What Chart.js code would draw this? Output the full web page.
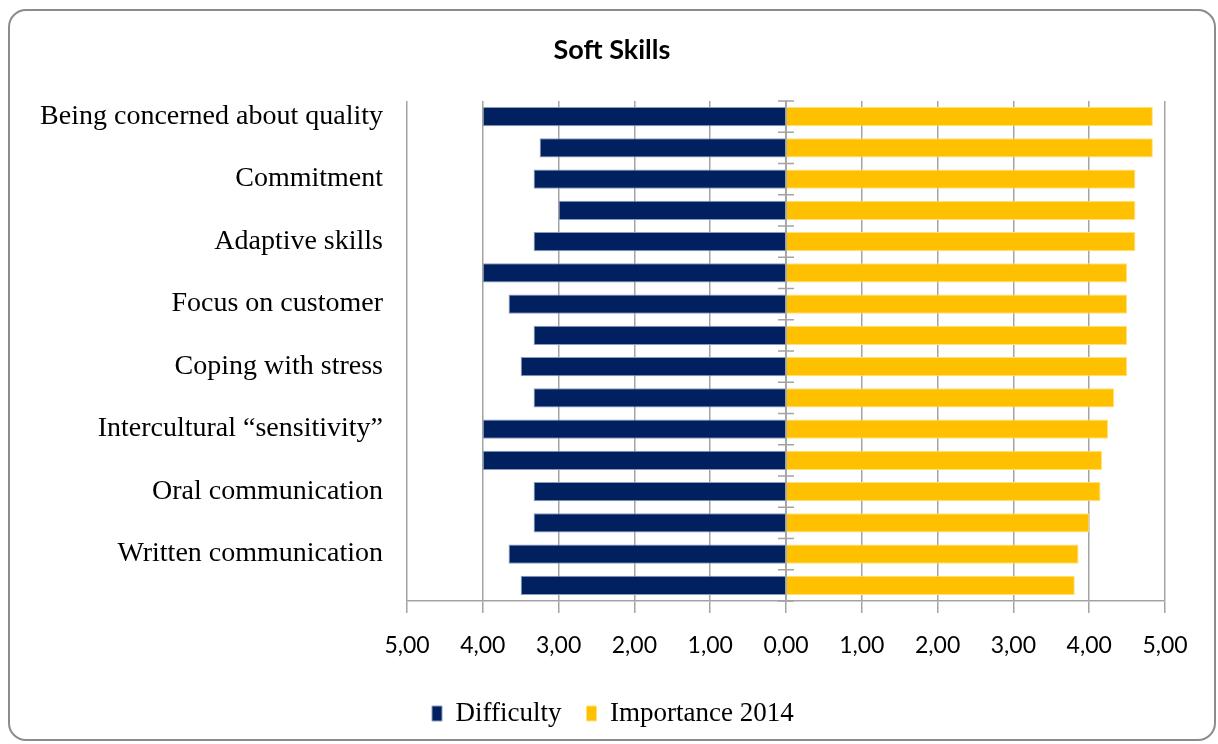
<!DOCTYPE html>
<html>
<head>
<meta charset="utf-8">
<script src="https://cdn.jsdelivr.net/npm/chart.js@4/dist/chart.umd.min.js"></script>
<style>
  html, body { margin: 0; padding: 0; background: #fff; }
  #frame {
    position: absolute; left: 8px; top: 9px; width: 1204px; height: 728px;
    border: 2px solid #8c8c8c; border-radius: 18px;
  }
  #wrap { position: absolute; left: 0; top: 0; width: 1218px; height: 744px; }
</style>
</head>
<body>
<div id="frame"></div>
<div id="wrap"><canvas id="chart"></canvas></div>
<script>
const chartTitle = 'Soft Skills';
// categories, top to bottom (only every other label is printed in the source)
const categories = [
  'Being concerned about quality', '',
  'Commitment', '',
  'Adaptive skills', '',
  'Focus on customer', '',
  'Coping with stress', '',
  'Intercultural \u201csensitivity\u201d', '',
  'Oral communication', '',
  'Written communication', ''
];
// drawn to the left of zero
const difficulty = [4.00, 3.25, 3.33, 3.00, 3.33, 4.00, 3.66, 3.33, 3.50, 3.33, 4.00, 4.00, 3.33, 3.33, 3.66, 3.50];
const importance2014 = [4.84, 4.84, 4.61, 4.61, 4.61, 4.50, 4.50, 4.50, 4.50, 4.33, 4.25, 4.17, 4.15, 4.00, 3.86, 3.81];
const xTicks = [-5, -4, -3, -2, -1, 0, 1, 2, 3, 4, 5];

const gridGrey = '#a3a3a3';
const serif = "'Liberation Serif', 'Times New Roman', serif";

// zero axis with its little category ticks, drawn over the bars
const zeroAxis = {
  id: 'zeroAxis',
  afterDatasetsDraw(chart) {
    const { ctx, chartArea, scales: { x, y } } = chart;
    const x0 = x.getPixelForValue(0);
    const step = y.getPixelForValue(1) - y.getPixelForValue(0);
    ctx.save();
    ctx.strokeStyle = gridGrey;
    ctx.lineWidth = 1.5;
    ctx.beginPath();
    ctx.moveTo(x0, chartArea.top);
    ctx.lineTo(x0, chartArea.bottom);
    for (let i = 0; i <= categories.length; i++) {
      const yy = y.getPixelForValue(0) - step / 2 + i * step;
      ctx.moveTo(x0 - 8, yy);
      ctx.lineTo(x0 + 8, yy);
    }
    ctx.stroke();
    ctx.restore();
  }
};

// title centred on the whole frame, not on the plot
const frameTitle = {
  id: 'frameTitle',
  afterDraw(chart) {
    const ctx = chart.ctx;
    ctx.save();
    ctx.font = "bold 27px Lato";
    ctx.fillStyle = '#000';
    ctx.textAlign = 'center';
    ctx.textBaseline = 'middle';
    ctx.fillText(chartTitle, chart.width / 2 + 3, 50);
    ctx.restore();
  }
};

new Chart(document.getElementById('chart'), {
  type: 'bar',
  data: {
    labels: categories,
    datasets: [
      {
        label: 'Difficulty',
        data: difficulty.map(v => -v),
        backgroundColor: '#002060',
        borderColor: '#8a9bbd',
        borderWidth: 1
      },
      {
        label: 'Importance 2014',
        data: importance2014,
        backgroundColor: '#ffc000',
        borderColor: '#ffe27a',
        borderWidth: 1
      }
    ]
  },
  options: {
    indexAxis: 'y',
    responsive: true,
    maintainAspectRatio: false,
    animation: false,
    layout: { padding: { left: 20, right: 53, top: 101, bottom: 7 } },
    datasets: {
      bar: { grouped: false, barPercentage: 0.62, categoryPercentage: 1 }
    },
    scales: {
      x: {
        min: -5,
        max: 5,
        afterBuildTicks: scale => { scale.ticks = xTicks.map(v => ({ value: v })); },
        grid: { color: gridGrey, lineWidth: 1.5, tickLength: 12 },
        border: { display: true, color: gridGrey, width: 1.5 },
        ticks: {
          padding: 19,
          color: '#000',
          font: { family: 'Lato', size: 23 },
          callback: v => Math.abs(v).toFixed(2).replace('.', ',')
        },
        afterFit: scale => { scale.height = 74; }
      },
      y: {
        grid: { display: false },
        border: { display: false },
        ticks: {
          autoSkip: false,
          padding: 16,
          color: '#000',
          font: { family: serif, size: 28 }
        },
        afterFit: scale => { scale.width = 387; }
      }
    },
    plugins: {
      title: { display: false },
      legend: {
        position: 'bottom',
        fullSize: false,
        align: 'start',
        labels: {
          color: '#000',
          boxWidth: 10,
          boxHeight: 15,
          padding: 25,
          font: { family: serif, size: 27 }
        }
      },
      tooltip: { enabled: false }
    }
  },
  plugins: [zeroAxis, frameTitle]
});
</script>
</body>
</html>
